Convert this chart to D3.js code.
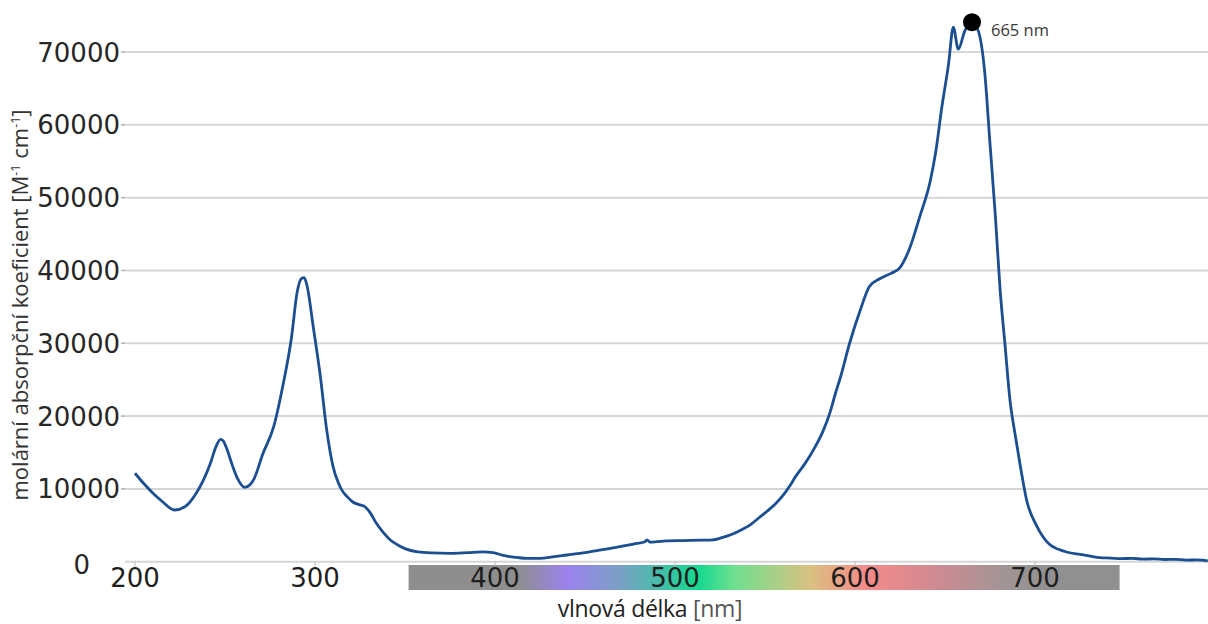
<!DOCTYPE html>
<html>
<head>
<meta charset="utf-8">
<script src="https://cdn.jsdelivr.net/npm/d3@7"></script>
<style>
  html, body { margin: 0; padding: 0; background: #ffffff; }
  svg { display: block; }
</style>
</head>
<body>
<svg id="chart" width="1208" height="624"></svg>
<script>
// ---------- data ----------
const wavelengths = [
  200, 205, 210, 215, 222, 228, 234, 238, 242, 245, 247.5, 249, 251, 254, 257, 261, 264, 266,
  271, 277, 282, 287, 290, 292.5, 294, 295.5, 299, 303, 306.5, 310, 313, 315, 318, 321, 325,
  328, 331, 334, 338, 342, 346, 350, 357, 365, 375, 385, 393, 399, 404, 408, 413, 418, 425,
  432, 440, 450, 458, 468, 477, 483, 484.5, 486, 490, 495, 505, 515, 521, 526, 531, 537, 542,
  547, 551, 556, 560, 564, 567, 572, 577, 582, 586, 589, 592, 597, 603, 608, 614, 620, 625,
  630, 636, 642, 645, 648, 652, 654.6, 657.4, 661, 665, 668.5, 672, 675, 678, 680.6, 683.3,
  686, 689, 692, 695.4, 701, 708, 713, 718, 725, 730, 736, 742, 748, 754, 760, 766, 772, 778,
  784, 790, 796
];
const absorbance = [
  12150, 10700, 9400, 8300, 7100, 7600, 9400, 11200, 13600, 15800, 16800, 16600, 15500, 13300, 11400, 10200, 10600, 11300,
  14800, 18500, 24000, 30900, 36900, 38900, 39000, 38000, 32300, 25400, 18100, 13100, 10800, 9800, 8900, 8200, 7800,
  7500, 6600, 5300, 4000, 2950, 2300, 1800, 1350, 1200, 1150, 1250, 1350, 1250, 900, 700, 550, 470, 470,
  650, 920, 1250, 1600, 2000, 2430, 2700, 3000, 2700, 2750, 2850, 2900, 2950, 3000, 3300, 3700, 4400, 5100,
  6100, 6900, 8000, 9100, 10500, 11700, 13400, 15400, 17800, 20400, 23000, 25400, 30000, 34600, 37800, 38900, 39600, 40400,
  42800, 47400, 52500, 56500, 62000, 68400, 73400, 70400, 72900, 74100, 72900, 67400, 57400, 47400, 37400, 29900,
  22400, 17400, 12900, 8400, 4900, 2400, 1700, 1300, 1000, 800, 550, 500, 420, 460, 350, 390, 300, 330,
  220, 250, 100
];
const yTicks = [10000, 20000, 30000, 40000, 50000, 60000, 70000];
const yZeroLabel = "0";
const xTicks = [200, 300, 400, 500, 600, 700];
const peakWavelength = 665;
const peakValue = 74100;
const peakLabel = "665 nm";
const spectrumRange = [352, 747];
const spectrumStopsNm = [352, 413, 440, 469, 513, 533, 575, 606, 644, 683, 709, 747];
const spectrumColors = ["#8e8e8e", "#8e8e8e", "#9b82ee", "#7ba0c6", "#14d98e", "#6fe08f", "#d9c181", "#f68a89", "#d08a92", "#a29595", "#909090", "#909090"];
const xTitleMain = "vlnová délka";
const xTitleUnit = "[nm]";
const yTitleText = "molární absorpční koeficient [M";

// ---------- scales ----------
const svg = d3.select("#chart");
const x = d3.scaleLinear().domain([200, 700]).range([135, 1035]);
const y = d3.scaleLinear().domain([0, 70000]).range([561.7, 52]);
const plotLeft = 125, plotRight = 1208;
const tickFont = "'DejaVu Sans', Verdana, sans-serif";
const titleFont = "'Open Sans', 'Noto Sans', sans-serif";

// ---------- grid ----------
const gridVals = [0].concat(yTicks);
svg.append("g").selectAll("line").data(gridVals).join("line")
  .attr("x1", plotLeft).attr("x2", plotRight)
  .attr("y1", d => y(d)).attr("y2", d => y(d))
  .attr("stroke", "#d6d6d6").attr("stroke-width", 2);

// y tick marks
svg.append("g").selectAll("line").data(yTicks).join("line")
  .attr("x1", 121).attr("x2", plotLeft)
  .attr("y1", d => y(d)).attr("y2", d => y(d))
  .attr("stroke", "#b0b0b0").attr("stroke-width", 1.5);

// y tick labels
svg.append("g").selectAll("text").data(yTicks).join("text")
  .attr("x", 120).attr("y", d => y(d) + 9.5)
  .attr("text-anchor", "end")
  .attr("font-family", tickFont).attr("font-size", 26)
  .attr("fill", "#262626")
  .text(d => d);
svg.append("text")
  .attr("x", 90).attr("y", y(0) + 12)
  .attr("text-anchor", "end")
  .attr("font-family", tickFont).attr("font-size", 26)
  .attr("fill", "#262626")
  .text(yZeroLabel);

// ---------- spectrum bar ----------
const defs = svg.append("defs");
const grad = defs.append("linearGradient")
  .attr("id", "spec").attr("gradientUnits", "userSpaceOnUse")
  .attr("x1", x(spectrumRange[0])).attr("x2", x(spectrumRange[1]))
  .attr("y1", 0).attr("y2", 0);
const span = spectrumRange[1] - spectrumRange[0];
grad.selectAll("stop").data(spectrumStopsNm).join("stop")
  .attr("offset", d => (d - spectrumRange[0]) / span)
  .attr("stop-color", (d, i) => spectrumColors[i]);
svg.append("rect")
  .attr("x", x(spectrumRange[0])).attr("width", x(spectrumRange[1]) - x(spectrumRange[0]))
  .attr("y", 565).attr("height", 25)
  .attr("fill", "url(#spec)");

// x tick marks
svg.append("g").selectAll("line").data(xTicks).join("line")
  .attr("x1", d => x(d)).attr("x2", d => x(d))
  .attr("y1", y(0)).attr("y2", y(0) + 5)
  .attr("stroke", "#b8b8b8").attr("stroke-width", 1);

// x tick labels
svg.append("g").selectAll("text").data(xTicks).join("text")
  .attr("x", d => x(d)).attr("y", 586.5)
  .attr("text-anchor", "middle")
  .attr("font-family", tickFont).attr("font-size", 26)
  .attr("fill", "#1e1e1e")
  .text(d => d);

// ---------- line ----------
defs.append("clipPath").attr("id", "clip").append("rect")
  .attr("x", plotLeft).attr("y", 0).attr("width", plotRight - plotLeft).attr("height", 600);
const pts = wavelengths.map((w, i) => [w, absorbance[i]]);
const line = d3.line().x(d => x(d[0])).y(d => y(d[1])).curve(d3.curveMonotoneX);
svg.append("path")
  .attr("clip-path", "url(#clip)")
  .attr("d", line(pts))
  .attr("fill", "none")
  .attr("stroke", "#1b4f91")
  .attr("stroke-width", 2.8)
  .attr("stroke-linejoin", "round");

// ---------- peak marker ----------
svg.append("circle")
  .attr("cx", x(peakWavelength)).attr("cy", y(peakValue)).attr("r", 9)
  .attr("fill", "#000");
svg.append("text")
  .attr("x", x(peakWavelength) + 19).attr("y", y(peakValue) + 14)
  .attr("font-family", titleFont).attr("font-size", 16.5)
  .attr("fill", "#3a3a3a")
  .text(peakLabel);

// ---------- axis titles ----------
const xt = svg.append("text")
  .attr("x", 650).attr("y", 617)
  .attr("text-anchor", "middle")
  .attr("font-family", titleFont).attr("font-size", 23)
  .attr("letter-spacing", -0.3);
xt.append("tspan").attr("fill", "#222").text(xTitleMain + " ");
xt.append("tspan").attr("fill", "#555").text(xTitleUnit);

const yt = svg.append("text")
  .attr("transform", "translate(28,305) rotate(-90)")
  .attr("text-anchor", "middle")
  .attr("font-family", titleFont).attr("font-size", 22)
  .attr("fill", "#333333");
yt.append("tspan").text(yTitleText);
yt.append("tspan").attr("font-size", 12.5).attr("dy", -8).text("-1");
yt.append("tspan").attr("dy", 8).text(" cm");
yt.append("tspan").attr("font-size", 12.5).attr("dy", -8).text("-1");
yt.append("tspan").attr("dy", 8).text("]");
</script>
</body>
</html>
